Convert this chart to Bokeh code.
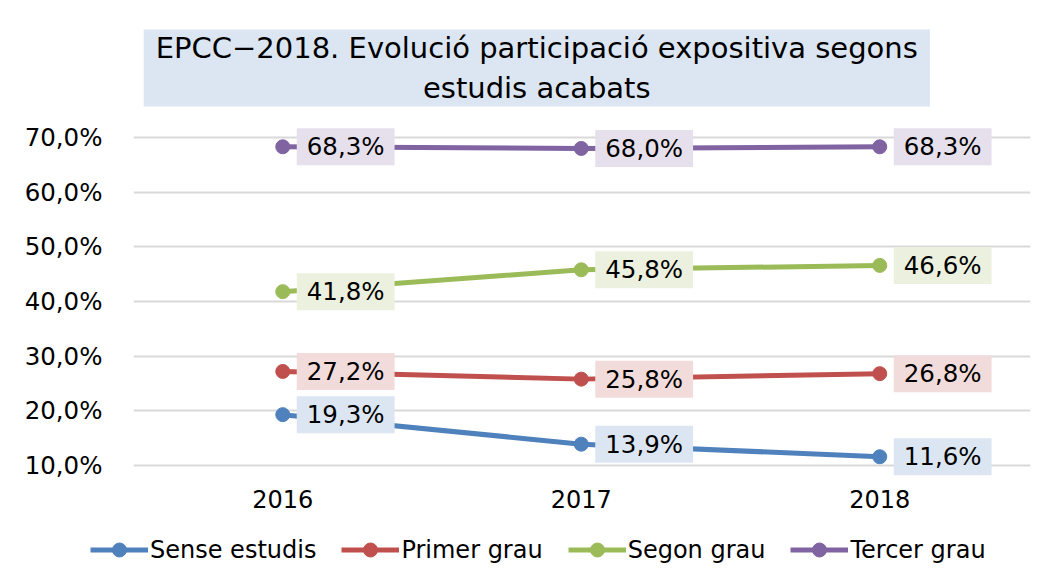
from bokeh.plotting import figure
from bokeh.layouts import column
from bokeh.models import Range1d, Legend, LegendItem, Label, ColumnDataSource, FixedTicker
from bokeh.core.properties import value
from bokeh.embed import file_html
from bokeh.resources import INLINE

years = [2016, 2017, 2018]
series_names = ["Sense estudis", "Primer grau", "Segon grau", "Tercer grau"]
sense_estudis = [19.3, 13.9, 11.6]
primer_grau = [27.2, 25.8, 26.8]
segon_grau = [41.8, 45.8, 46.6]
tercer_grau = [68.3, 68.0, 68.3]
y_ticks = [10, 20, 30, 40, 50, 60, 70]
title_text = "EPCC\u22122018. Evolució participació expositiva segons\nestudis acabats"

colors = ["#4F81BD", "#C0504D", "#9BBB59", "#8064A2"]
label_bg = ["#DCE6F2", "#F2DCDB", "#EBF1DE", "#E6E0EC"]
FONT = "DejaVu Sans"

# main chart: frame extends to the top so the title box fits inside it
p = figure(width=1044, height=520, output_backend="svg", toolbar_location=None,
           x_range=Range1d(2015.5, 2018.505), y_range=Range1d(7.256, 95.06),
           min_border_left=133, min_border_right=14, min_border_top=0, min_border_bottom=40)
p.frame_align = False
p.outline_line_color = None
p.background_fill_color = "white"
p.border_fill_color = "white"

p.xgrid.visible = False
p.ygrid.grid_line_color = "#D9D9D9"
p.ygrid.grid_line_width = 2
p.yaxis.ticker = FixedTicker(ticks=y_ticks)
p.yaxis.major_label_overrides = {t: f"{t},0%" for t in y_ticks}
p.xaxis.ticker = FixedTicker(ticks=years)
p.xaxis.major_label_overrides = {y: str(y) for y in years}
for ax in (p.xaxis[0], p.yaxis[0]):
    ax.axis_line_color = None
    ax.major_tick_line_color = None
    ax.minor_tick_line_color = None
    ax.major_label_text_font = FONT
    ax.major_label_text_color = "#000000"
p.yaxis.major_label_text_font_size = "24.5px"
p.yaxis.major_label_standoff = 25
p.xaxis.major_label_text_font_size = "24px"
p.xaxis.major_label_standoff = 3

all_series = [sense_estudis, primer_grau, segon_grau, tercer_grau]
for name, vals, c, bg in zip(series_names, all_series, colors, label_bg):
    src = ColumnDataSource(dict(x=years, y=vals, lab=[f"{v:.1f}%".replace(".", ",") for v in vals]))
    p.line("x", "y", source=src, line_color=c, line_width=5)
    p.scatter("x", "y", source=src, size=14, fill_color=c, line_color=c)
    p.text("x", "y", text="lab", source=src, x_offset=14, text_align="left", text_baseline="middle",
           text_font=value(FONT), text_font_size="24.5px", text_color="#000000",
           background_fill_color=bg, padding=(10, 4))

title = Label(x=2016.851, y=82.71, text=title_text,
              text_align="center", text_baseline="middle", text_font=FONT, text_font_size="29px",
              text_line_height=1.2, text_color="#000000",
              background_fill_color="#DCE6F2", padding=(12, 1))
p.add_layout(title)

# legend strip below the chart
p2 = figure(width=1044, height=63, output_backend="svg", toolbar_location=None,
            x_range=Range1d(0, 1), y_range=Range1d(0, 1),
            x_axis_location=None, y_axis_location=None, min_border=0)
p2.frame_align = False
p2.outline_line_color = None
p2.grid.visible = False
items = []
for name, c in zip(series_names, colors):
    esrc = ColumnDataSource(dict(x=[-5], y=[-5]))
    l = p2.line("x", "y", source=esrc, line_color=c, line_width=5)
    s = p2.scatter("x", "y", source=esrc, size=14, fill_color=c, line_color=c)
    items.append(LegendItem(label=name, renderers=[l, s]))
legend = Legend(items=items, orientation="horizontal", location=(90, 16),
                label_text_font=FONT, label_text_font_size="24px", label_text_color="#000000",
                glyph_width=58, glyph_height=35, spacing=25, label_standoff=2,
                border_line_color=None, background_fill_alpha=0, padding=0, margin=0)
p2.add_layout(legend)

layout = column(p, p2, spacing=0)
open("out.html", "w").write(file_html(layout, INLINE))
